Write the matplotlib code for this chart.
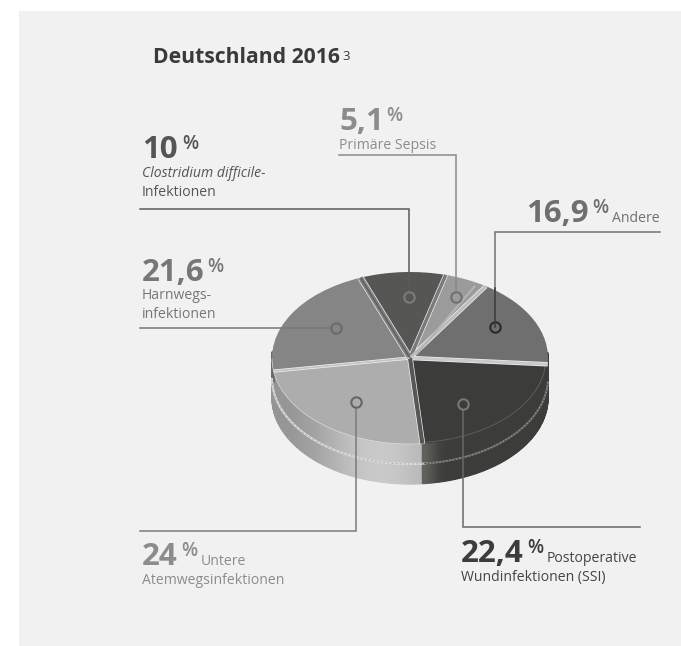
import numpy as np
import matplotlib
matplotlib.use('Agg')
import matplotlib.pyplot as plt
from matplotlib.patches import Polygon, Rectangle

# shares in percent, clockwise from the top-left edge of the pie
labels = ['Clostridium difficile', 'Primäre Sepsis', 'Andere',
          'Postoperative', 'Untere', 'Harnwegs']
values = [10, 5.1, 16.9, 22.4, 24, 21.6]
colors = ['#565654', '#9b9b9b', '#6f6f6f', '#3c3c3a', '#adadad', '#858585']
START = 111

W, H = 681, 646
CX, CY, RX, RY = 410, 358, 138, 86
DEPTH = 40 / RY

plt.rcParams['font.family'] = ['Open Sans', 'DejaVu Sans']
fig = plt.figure(figsize=(W / 100, H / 100), dpi=100, facecolor='white')

# page axes in pixels, for the panel, lines and text
page = fig.add_axes([0, 0, 1, 1], zorder=1)
page.set_xlim(0, W)
page.set_ylim(H, 0)
page.axis('off')
page.add_patch(Rectangle((19, 11), W - 19, H - 11, fc='#f1f1f1', ec='none'))

# pie axes: stretched so the unit circle lands on the flat ellipse
pie = fig.add_axes([0, 0, 1, 1], zorder=2)
pie.patch.set_alpha(0)
wedges, _ = pie.pie(values, colors=colors, startangle=START, counterclock=False,
                    radius=1, wedgeprops=dict(linewidth=0))
pie.set_aspect('auto')
pie.set_xlim((0 - CX) / RX, (W - CX) / RX)
pie.set_ylim((CY - H) / RY, (CY - 0) / RY)
pie.axis('off')
for w in wedges:
    w.set_zorder(5)

edges = START - np.cumsum([0] + values) * 3.6


def shade(c, f):
    rgb = np.array(matplotlib.colors.to_rgb(c))
    return np.clip(rgb * f, 0, 1)


def wall(a0, a1, depth, color, bright=None):
    # one strip of the side wall, split up so it can carry a highlight
    a = np.radians(np.linspace(a0, a1, 90))
    for j in range(len(a) - 1):
        t = j / (len(a) - 1)
        f = bright(t) if bright else 1
        xs = np.cos(a[j:j + 2])
        ys = np.sin(a[j:j + 2])
        quad = np.column_stack([np.r_[xs, xs[::-1]],
                                np.r_[ys, ys[::-1] - depth]])
        pie.add_patch(Polygon(quad, fc=shade(color, f), ec=shade(color, f), lw=0.9, zorder=2))


# only the two front slices show a full wall; the side ones show a sliver
wall(edges[5] - 13, edges[4], DEPTH, colors[4],
     lambda t: 0.86 + 0.30 * np.exp(-((t - 0.82) / 0.28) ** 2))
wall(edges[4], edges[3] + 8, DEPTH, colors[3],
     lambda t: 1.0 + 0.6 * np.exp(-(t / 0.06) ** 2))
wall(edges[5] - 13, edges[5], DEPTH * 0.3, '#6a6a6a')

# dashed light seam round the middle of the wall
a = np.radians(np.linspace(edges[5] - 8, -84, 120))
pie.plot(np.cos(a), np.sin(a) - DEPTH * 0.5, color='#e0e0e0', lw=1.5, zorder=3)
pie.plot(np.cos(a), np.sin(a) - DEPTH * 0.5, color='#a8a8a8', lw=0.6,
         ls=(0, (3, 2)), zorder=3)
pie.plot(np.cos(a), np.sin(a), color='#dcdcdc', lw=0.5, zorder=6)
a = np.radians(np.linspace(-84, -3, 100))
pie.plot(np.cos(a), np.sin(a) - DEPTH * 0.5, color='#8a8a8a', lw=1.3, zorder=3)
pie.plot(np.cos(a), np.sin(a) - DEPTH * 0.5, color='#3c3c3a', lw=0.6,
         ls=(0, (2, 2)), zorder=3)
pie.plot(np.cos(a) * 0.985, np.sin(a) * 0.985, color='#686868', lw=0.5, zorder=6)

# bevels between the slices
bevel = ['#808080', '#7a7a7a', '#bdbdbd', '#cacaca', '#565656', '#c4c4c4']
widths = [3.6, 2.5, 2.2, 2.2, 3.0, 1.3]
for i, ang in enumerate(edges[:-1]):
    r = np.radians(ang)
    pie.plot([0, np.cos(r)], [0, np.sin(r)], color='#f1f1f1', lw=widths[i] + 1.0,
             zorder=7, solid_capstyle='butt')
    pie.plot([0, np.cos(r)], [0, np.sin(r)], color=bevel[i], lw=widths[i],
             zorder=8, solid_capstyle='butt')
r = np.radians(edges[0])
pie.plot([0, np.cos(r)], [0, np.sin(r)], color='#5e5e5e', lw=1.0, zorder=9,
         solid_capstyle='butt')
r = np.radians(edges[2] + 4)
pie.plot([0.05, np.cos(r) * 0.95], [0.05, np.sin(r) * 0.95], color='#b5b5b5', lw=1.4, zorder=8)

# leader lines with ring ends
leaders = [
    ([(140, 209), (409, 209), (409, 297)], '#5a5a5a'),
    ([(339, 155), (456, 155), (456, 297)], '#8a8a8a'),
    ([(660, 232), (495, 232), (495, 327)], '#727272'),
    ([(140, 328), (336, 328)], '#777777'),
    ([(140, 531), (356, 531), (356, 402)], '#7b7b7b'),
    ([(640, 527), (463, 527), (463, 404)], '#686868'),
]
ring_fill = ['#565654', '#9b9b9b', '#6f6f6f', '#858585', '#adadad', '#3c3c3a']
ring_edge = ['#7b7b7b', '#6f6f6f', '#2b2b2b', '#6a6a6a', '#666666', '#777777']
top = fig.add_axes([0, 0, 1, 1], zorder=3)
top.patch.set_alpha(0)
top.set_xlim(0, W)
top.set_ylim(H, 0)
top.axis('off')
for k, (pts, col) in enumerate(leaders):
    xs, ys = zip(*pts)
    top.plot(xs, ys, color=col, lw=1.1, solid_joinstyle='miter')
    top.plot(xs[-1], ys[-1], 'o', ms=7.5, mfc=ring_fill[k], mec=ring_edge[k], mew=1.5)
top.plot([495, 495], [288, 327], color='#3a3a3a', lw=1.1)

# title
page.text(153, 63, 'Deutschland 2016', fontsize=15.2, weight='bold',
          color='#3a3a3a', va='baseline')
page.text(342, 60, '3', fontsize=9.5, color='#3a3a3a', va='baseline')


def big(x, y, num, col, dx):
    page.text(x, y, num, fontsize=22.5, weight='bold', color=col, va='baseline')
    page.text(x + dx, y - 9, '%', fontsize=13.5, weight='semibold', color=col, va='baseline')


def small(x, y, s, col, **kw):
    page.text(x, y, s, fontsize=10.1, color=col, va='baseline', **kw)


big(142, 158, '10', '#555555', 40)
small(142, 177, 'Clostridium difficile-', '#555555', style='italic')
small(142, 196, 'Infektionen', '#555555')

big(339, 130, '5,1', '#8c8c8c', 47)
small(339, 149, 'Primäre Sepsis', '#8c8c8c')

big(526, 222, '16,9', '#6f6f6f', 66)
small(612, 222, 'Andere', '#6f6f6f')

big(142, 281, '21,6', '#777777', 65)
small(142, 299, 'Harnwegs-', '#777777')
small(142, 318, 'infektionen', '#777777')

big(142, 565, '24', '#8c8c8c', 39)
small(201, 565, 'Untere', '#8c8c8c')
small(142, 584, 'Atemwegsinfektionen', '#8c8c8c')

big(461, 562, '22,4', '#3c3c3c', 66)
small(547, 562, 'Postoperative', '#444444')
small(461, 581, 'Wundinfektionen (SSI)', '#444444')

fig.savefig('out.png', dpi=100, facecolor='white')
